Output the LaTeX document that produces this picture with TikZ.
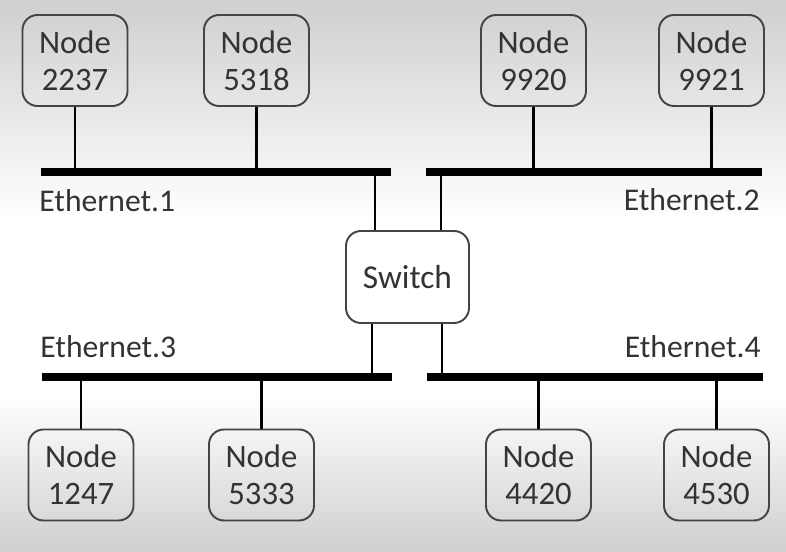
\documentclass[tikz,border=0pt]{standalone}
\usepackage{fontspec}
\setmainfont{Carlito}
\usetikzlibrary{positioning}
\definecolor{ink}{HTML}{333333}
\definecolor{edgegray}{HTML}{444444}
\definecolor{shade}{HTML}{CFCFCF}

\begin{document}
\begin{tikzpicture}[
    host/.style={draw=edgegray, line width=1.1pt, rounded corners=0.3cm, align=center,
        minimum width=2.10cm, minimum height=1.82cm, inner sep=0pt, text=ink,
        font=\fontsize{18.6}{21}\selectfont},
    switchbox/.style={host, fill=white, minimum width=2.46cm, minimum height=1.84cm},
    bus/.style={line width=4pt},
    drop/.style={line width=1.6pt},
    netlabel/.style={text=ink, inner sep=0pt, font=\fontsize{18}{21}\selectfont}
]
    \useasboundingbox (0,0) rectangle (15.72,-11.04);
    % background
    \shade[top color=shade, bottom color=white] (0,0) rectangle (15.72,-4.40);
    \fill[white] (0,-4.40) rectangle (15.72,-7.90);
    \shade[top color=white, bottom color=shade] (0,-7.90) rectangle (15.72,-11.04);

    \node[host] (n2237) at (1.50, -1.21) {Node\\2237};
    \node[host] (n5318) at (5.13, -1.21) {Node\\5318};
    \node[host] (n9920) at (10.67, -1.21) {Node\\9920};
    \node[host] (n9921) at (14.23, -1.21) {Node\\9921};
    \node[switchbox, font=\fontsize{19}{21}\selectfont] (sw) at (8.15, -5.54) {Switch};
    \node[host] (n1247) at (1.62, -9.50) {Node\\1247};
    \node[host] (n5333) at (5.23, -9.50) {Node\\5333};
    \node[host] (n4420) at (10.77, -9.50) {Node\\4420};
    \node[host] (n4530) at (14.33, -9.50) {Node\\4530};

    % the four segments
    \coordinate (e1w) at (0.82, -3.44);  \coordinate (e1e) at (7.82, -3.44);
    \coordinate (e2w) at (8.52, -3.44);  \coordinate (e2e) at (15.24, -3.44);
    \coordinate (e3w) at (0.84, -7.54);  \coordinate (e3e) at (7.84, -7.54);
    \coordinate (e4w) at (8.54, -7.54);  \coordinate (e4e) at (15.26, -7.54);
    \draw[bus] (e1w) -- (e1e);
    \draw[bus] (e2w) -- (e2e);
    \draw[bus] (e3w) -- (e3e);
    \draw[bus] (e4w) -- (e4e);

    \node[netlabel, anchor=base west] (l1) at (0.78, -4.24) {Ethernet.1};
    \node[netlabel, anchor=base east] (l2) at (15.20, -4.22) {Ethernet.2};
    \node[netlabel, anchor=base west] (l3) at (0.80, -7.16) {Ethernet.3};
    \node[netlabel, anchor=base east] (l4) at (15.22, -7.16) {Ethernet.4};

    \coordinate (p1) at (7.50, -3.44);
    \coordinate (p2) at (8.82, -3.44);
    \coordinate (p3) at (7.44, -7.54);
    \coordinate (p4) at (8.84, -7.54);

    \path[drop]
        (n2237) edge (n2237 |- e1w)
        (n5318) edge (n5318 |- e1w)
        (n9920) edge (n9920 |- e2w)
        (n9921) edge (n9921 |- e2w)
        (n1247) edge (n1247 |- e3w)
        (n5333) edge (n5333 |- e3w)
        (n4420) edge (n4420 |- e4w)
        (n4530) edge (n4530 |- e4w)
        (p1) edge (p1 |- sw.north)
        (p2) edge (p2 |- sw.north)
        (p3) edge (p3 |- sw.south)
        (p4) edge (p4 |- sw.south)
    ;
\end{tikzpicture}
\end{document}
